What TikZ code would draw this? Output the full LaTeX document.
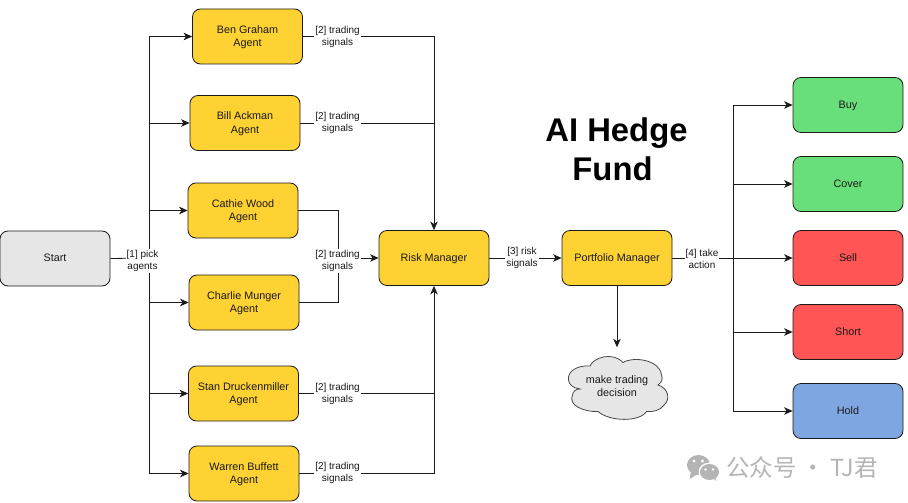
\documentclass[tikz,border=0pt]{standalone}
\usepackage{fontspec}
\setmainfont{Liberation Sans}
\newfontfamily\cjkwm{Noto Sans CJK SC}
\usetikzlibrary{arrows.meta,calc}
\definecolor{agentyellow}{HTML}{FFD233}
\definecolor{startgray}{HTML}{E6E6E6}
\definecolor{buygreen}{HTML}{69DF7B}
\definecolor{sellred}{HTML}{FF5555}
\definecolor{holdblue}{HTML}{7EA6E0}
\definecolor{linecol}{HTML}{1A1A1A}
\definecolor{wmgray}{HTML}{B4B4B4}
\newcommand{\dnl}[1]{\raisebox{-0.8pt}[8pt][3pt]{#1}}
\tikzset{
  box/.style={draw=linecol,line width=0.8pt,rounded corners=8pt,minimum width=110pt,minimum height=55pt,inner sep=0pt,align=center,text=black!90,font=\fontsize{10.8}{13.4}\selectfont},
  agent/.style={box,fill=agentyellow},
  conn/.style={draw=linecol,line width=0.8pt},
  arr/.style={conn,-{Stealth[length=8.5pt,width=7.5pt,inset=2.4pt]}},
  lab/.style={fill=white,inner sep=1pt,align=center,text=black!90,font=\fontsize{10}{12}\selectfont},
}
\begin{document}
\begin{tikzpicture}[x=1pt,y=-1pt]
\useasboundingbox (0,0) rectangle (908,503);
% nodes
\node[box,fill=startgray] (start) at (55,258.5) {\dnl{Start}};
\node[agent] (ben) at (247.5,36.5) {\dnl{Ben Graham}\\\dnl{Agent}};
\node[agent] (bill) at (245,123) {\dnl{Bill Ackman}\\\dnl{Agent}};
\node[agent] (cathie) at (243,210.5) {\dnl{Cathie Wood}\\\dnl{Agent}};
\node[agent] (charlie) at (244,302.5) {\dnl{Charlie Munger}\\\dnl{Agent}};
\node[agent] (stan) at (243.5,393.5) {\dnl{Stan Druckenmiller}\\\dnl{Agent}};
\node[agent] (warren) at (244,473.5) {\dnl{Warren Buffett}\\\dnl{Agent}};
\node[agent] (risk) at (434,258) {\dnl{Risk Manager}};
\node[agent] (pm) at (617,258) {\dnl{Portfolio Manager}};
\node[box,fill=buygreen] (buy) at (848,105) {\dnl{Buy}};
\node[box,fill=buygreen] (cover) at (848,184) {\dnl{Cover}};
\node[box,fill=sellred] (sell) at (848,258) {\dnl{Sell}};
\node[box,fill=sellred] (short) at (848,332) {\dnl{Short}};
\node[box,fill=holdblue] (hold) at (848,411) {\dnl{Hold}};
% cloud outline
\draw[draw=linecol!80,line width=0.8pt,fill=startgray]
  (568.5,380)
  .. controls (567,371) and (578,365) .. (590,366)
  .. controls (593,358) and (612,351) .. (623,362.5)
  .. controls (634,356) and (660,360) .. (661.5,375)
  .. controls (663,379) and (662,382) .. (658,385)
  .. controls (668,388) and (671,399) .. (664,405)
  .. controls (660,411) and (652,412) .. (646.5,411.5)
  .. controls (640,422) and (610,422) .. (598,411.5)
  .. controls (583,412) and (568,405) .. (572.5,395)
  .. controls (573,391) and (576,389) .. (580,389)
  .. controls (573,388) and (569,385) .. (568.5,380) -- cycle;
\node[inner sep=0pt,align=center,text=black!90,font=\fontsize{10.8}{13}\selectfont,minimum width=100pt,minimum height=78pt] (decide) at (617,386.5) {make trading\\decision};
% junctions
\coordinate (busl) at (149,258);
\coordinate (busr) at (733,258);
\coordinate (mergetop) at (434,36.5);
\coordinate (mergebot) at (434,473.5);
\coordinate (mergemid) at (338,258);
% connectors left
\draw[conn] (start.east) -- (busl);
\draw[conn] (busl |- ben) -- (busl |- warren);
\foreach \n in {ben,bill,cathie,charlie,stan,warren}
  \draw[arr] (busl |- \n) -- (\n.west);
% to risk
\draw[arr] (ben.east) -- (mergetop) -- (risk.north);
\draw[conn] (bill.east) -- (bill -| risk);
\draw[arr] (warren.east) -- (mergebot) -- (risk.south);
\draw[conn] (stan.east) -- (stan -| risk);
\draw[conn] (cathie.east) -- (cathie -| mergemid) -- (mergemid);
\draw[conn] (charlie.east) -- (charlie -| mergemid) -- (mergemid);
\draw[arr] (mergemid) -- (risk.west);
% risk to pm
\draw[arr] (risk.east) -- (pm.west);
% pm to actions
\draw[conn] (busr |- buy) -- (busr |- hold);
\draw[arr] (pm.east) -- (sell.west);
\foreach \n in {buy,cover,short,hold}
  \draw[arr] (busr |- \n) -- (\n.west);
\draw[arr] (pm.south) -- (decide.north);
% labels
\node[lab] (l1) at (142.5,261) {[1] pick\\agents};
\node[lab] (l2a) at (337.5,36.5) {[2] trading\\signals};
\node[lab] (l2b) at (337.5,123) {[2] trading\\signals};
\node[lab] (l2c) at (337.5,261) {[2] trading\\signals};
\node[lab] (l2d) at (337.5,394) {[2] trading\\signals};
\node[lab] (l2e) at (337.5,473) {[2] trading\\signals};
\node[lab] (l3) at (522,258) {[3] risk\\signals};
\node[lab] (l4) at (702,259) {[4] take\\action};
% title
\node[align=center,font=\bfseries\fontsize{32.8}{39}\selectfont,inner sep=0pt] (title) at (616.5,149.5) {AI Hedge\\Fund\kern8pt\mbox{}};
% watermark
\fill[wmgray] (698.5,465) ellipse (11.5pt and 10pt);
\fill[wmgray] (691,472) -- (689.5,479) -- (697,474.5) -- cycle;
\fill[white] (709.5,472) ellipse (11pt and 9.5pt);
\fill[wmgray] (709.5,472) ellipse (9.5pt and 8pt);
\fill[wmgray] (713,478) -- (716,481) -- (715,475) -- cycle;
\fill[white] (694,461) circle (1.7pt) (702.5,461) circle (1.7pt) (705.5,469.5) circle (1.3pt) (713,469.5) circle (1.3pt);
\node[inner sep=0pt,anchor=west,text=wmgray,font=\cjkwm\fontsize{23.5}{26}\selectfont] (wm) at (726,467.5) {公众号 · TJ君};
\end{tikzpicture}
\end{document}
